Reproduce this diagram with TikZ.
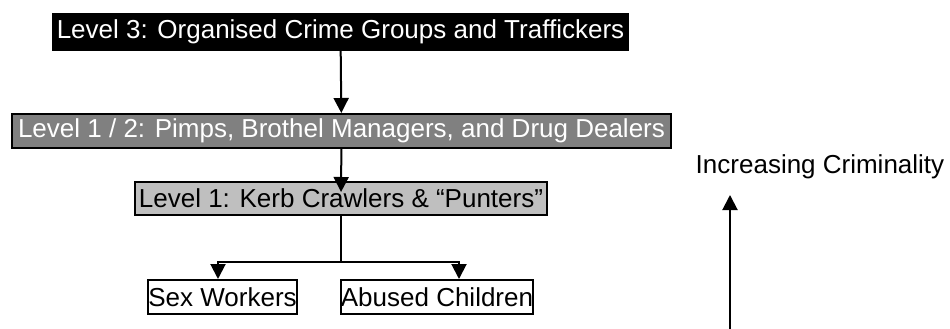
\documentclass[tikz,border=0pt]{standalone}
\usepackage{fontspec}
\setmainfont{Liberation Sans}
\usetikzlibrary{arrows.meta}

\tikzstyle{level} = [rectangle, text centered, inner sep=0pt, line width=2pt, draw=black, font=\fontsize{26}{30}\selectfont]
\tikzstyle{top_level} = [level, fill=black, text=white]
\tikzstyle{mid_level} = [level, fill=gray, text=white]
\tikzstyle{low_level} = [level, fill=black!25]
\tikzstyle{victim} = [level, fill=white]
\tikzstyle{arrow} = [line width=2pt, -{Triangle[width=15pt,length=15pt]}]

\begin{document}
\begin{tikzpicture}[x=1pt, y=-1pt]

    \useasboundingbox (0,0) rectangle (950,329);

    % Draw nodes
    \node (level3) [top_level, minimum width=575pt, minimum height=36pt] at (340.5,32) {Level 3: Organised Crime Groups and Traffickers};
    \node (level12) [mid_level, minimum width=659pt, minimum height=34pt] at (341.5,131) {Level 1 / 2: Pimps, Brothel Managers, and Drug Dealers};
    \node (level1) [low_level, minimum width=412pt, minimum height=33pt] at (341,198.5) {Level 1: Kerb Crawlers \& “Punters”};
    \node (workers) [victim, minimum width=149pt, minimum height=34pt] at (222.5,297) {Sex Workers};
    \node (children) [victim, minimum width=192pt, minimum height=34pt] at (437,297) {Abused Children};
    \node (criminality) [font=\fontsize{26}{30}\selectfont, inner sep=0pt] at (820,167) {Increasing Criminality};

    \coordinate (split) at (341,262);
    \coordinate (base) at (730,329);
    \coordinate (tip) at (730,195);

    % Draw connections
    \draw [arrow] (level3) -- (level12);
    \draw [arrow, shorten >=-11pt] (level12) -- (level1);
    \draw [line width=2pt] (level1) -- (split);
    \draw [arrow] (split) -| ([xshift=-4.5pt]workers.north);
    \draw [arrow] (split) -| ([xshift=22pt]children.north);
    \draw [arrow] (base) -- (tip);

\end{tikzpicture}
\end{document}
